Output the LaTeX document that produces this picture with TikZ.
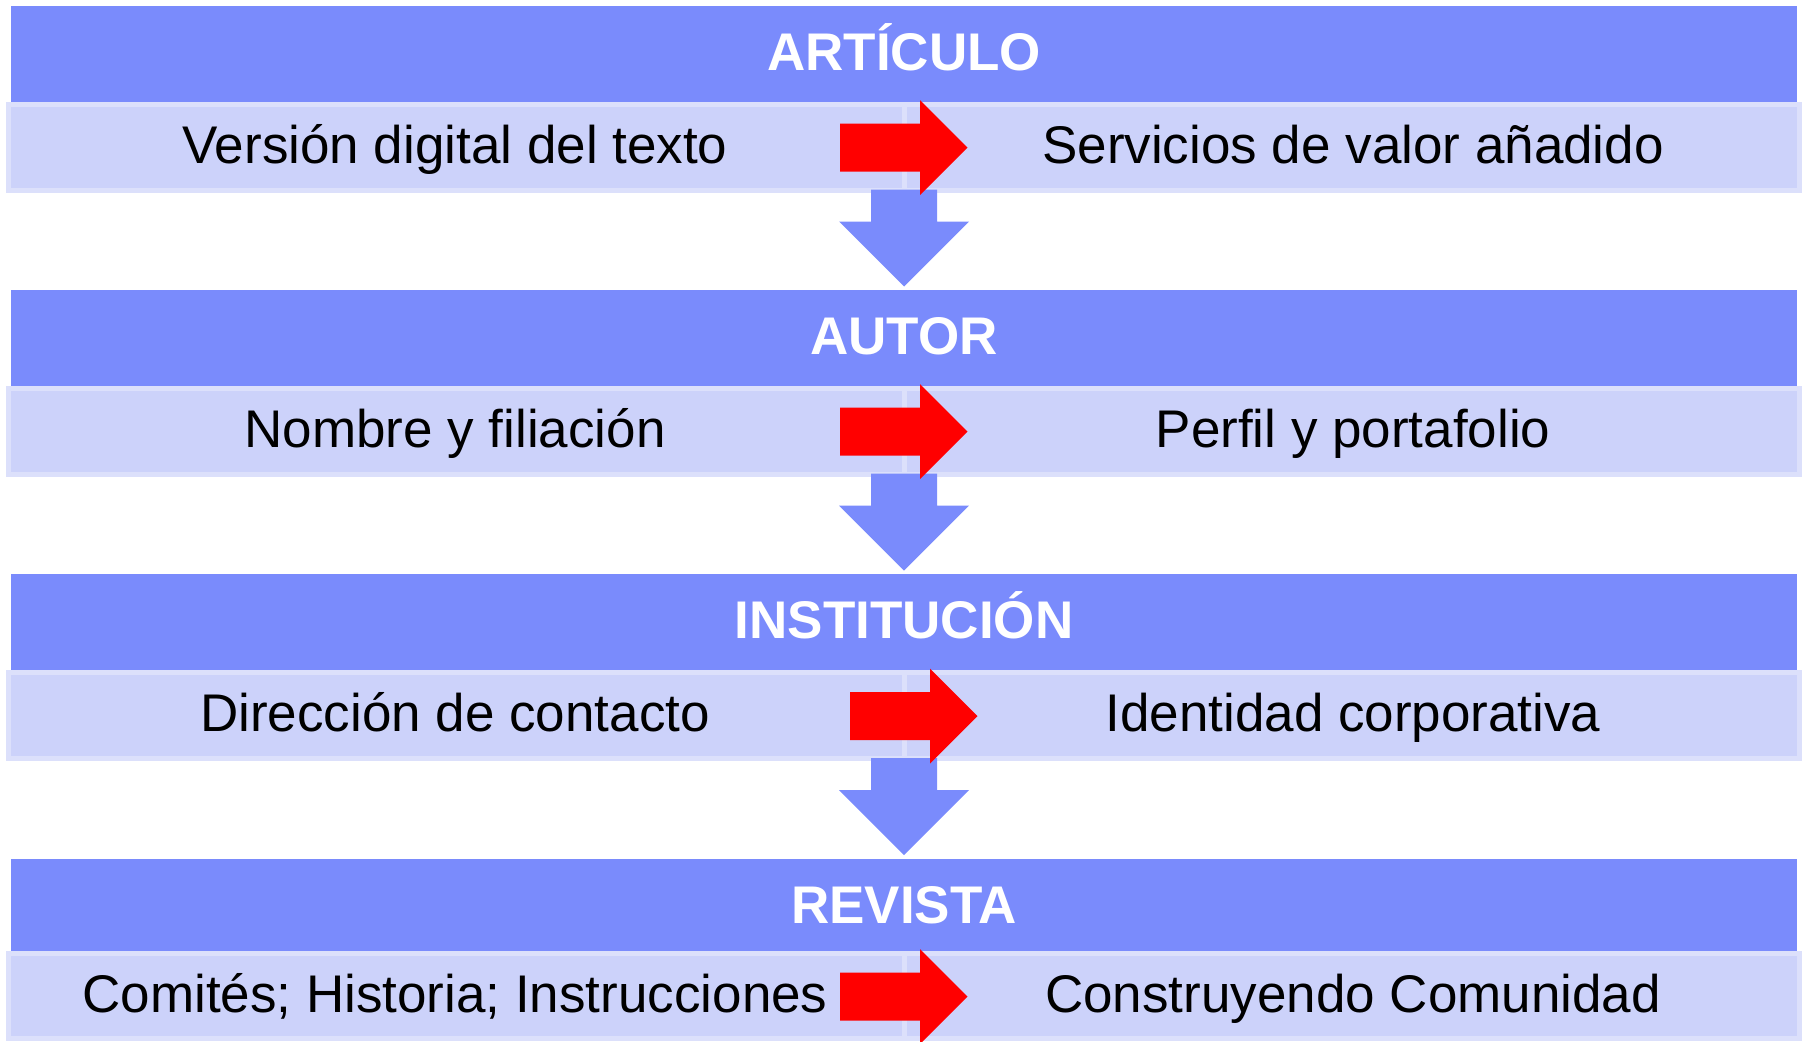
\documentclass[tikz,border=0pt]{standalone}
\usepackage{fontspec}
\setmainfont{Liberation Sans}
\definecolor{hdr}{HTML}{7A8BFC}
\definecolor{band}{HTML}{CCD2FA}
\definecolor{bandedge}{HTML}{DCE0FB}
\begin{document}
\begin{tikzpicture}[x=0.5pt,y=-0.5pt,
  header/.style={fill=hdr},
  bandbox/.style={fill=band,draw=bandedge,line width=2.5pt},
  htext/.style={text=white,font=\fontsize{26.5}{30}\selectfont\bfseries,anchor=base,inner sep=0pt},
  btext/.style={text=black,font=\fontsize{26.5}{30}\selectfont,anchor=base,inner sep=0pt},
  redarrow/.style={fill=red},
  downarrow/.style={fill=hdr}]
\useasboundingbox (0,0) rectangle (1807,1041);
\foreach \H/\B/\E/\dx/\ttl/\lt/\rt [count=\i] in {
  6/101.7/192.5/0/ARTÍCULO/Versión digital del texto/Servicios de valor añadido,
  290/385.7/476.7/0/AUTOR/Nombre y filiación/Perfil y portafolio,
  574.3/670/761/10/INSTITUCIÓN/Dirección de contacto/Identidad corporativa,
  859/950.7/1040.5/0/REVISTA/Comités; Historia; Instrucciones/Construyendo Comunidad}
{
  \fill[header] (11,\H) rectangle (1797,\B);
  \draw[bandbox] (8,{\B+2.5}) rectangle (904,{\E-2.5});
  \draw[bandbox] (904,{\B+2.5}) rectangle (1799.5,{\E-2.5});
  \ifnum\i<4
    \fill[downarrow] (871,{\E-3}) -- (937,{\E-3}) -- (937,{\E+29}) -- (969,{\E+29})
      -- (904,{\E+94}) -- (839,{\E+29}) -- (871,{\E+29}) -- cycle;
  \fi
  \fill[redarrow] ({840+\dx},{\B+22}) -- ({920+\dx},{\B+22}) -- ({920+\dx},{\B-1.5})
    -- ({967.5+\dx},{\B+46}) -- ({920+\dx},{\B+93.5}) -- ({920+\dx},{\B+70})
    -- ({840+\dx},{\B+70}) -- cycle;
  \node[htext] (h\i) at (904,{\H+64}) {\ttl};
  \node[btext] (l\i) at (455,{\B+61.8}) {\lt};
  \node[btext] (r\i) at (1353,{\B+61.8}) {\rt};
}
\end{tikzpicture}
\end{document}
